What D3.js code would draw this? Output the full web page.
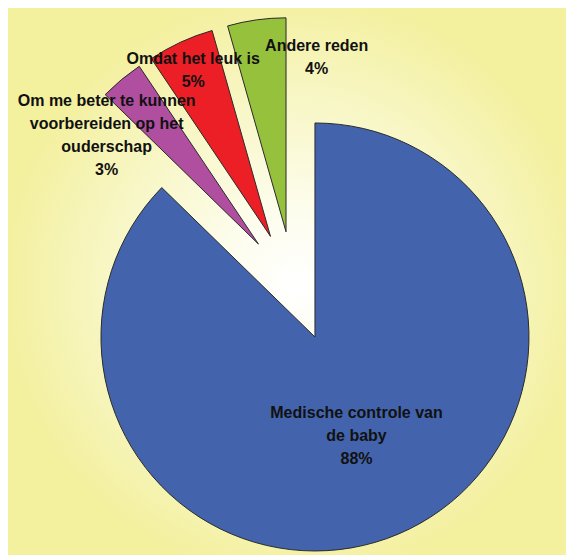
<!DOCTYPE html>
<html>
<head>
<meta charset="utf-8">
<script src="https://cdn.jsdelivr.net/npm/d3@7"></script>
<style>
  html, body { margin: 0; padding: 0; background: #ffffff; }
  svg { display: block; }
</style>
</head>
<body>
<svg id="chart" width="566" height="555"></svg>
<script>
// ---- data ----
const categories = [
  "Medische controle van de baby",
  "Om me beter te kunnen voorbereiden op het ouderschap",
  "Omdat het leuk is",
  "Andere reden"
];
const labelLines = [
  ["Medische controle van", "de baby"],
  ["Om me beter te kunnen", "voorbereiden op het", "ouderschap"],
  ["Omdat het leuk is"],
  ["Andere reden"]
];
const values = [87.3, 3.3, 5.0, 4.4];
const percentLabels = ["88%", "3%", "5%", "4%"];
const colors = ["#4364ad", "#b04fa0", "#ec1f26", "#95c13d"];

// ---- layout ----
const W = 566, H = 555;
const cx = 293.6, cy = 286.3, R = 214, explode = 55;
const lineH = 23;
// label placement: inside for the big slice, outside for the others, with Excel-like nudges
const labelRadius = [0, 239, 239, 239];
const labelNudge = [[0, 0], [-34, 32], [0, 0], [56, 7]];

const svg = d3.select("#chart");
const defs = svg.append("defs");
const grad = defs.append("radialGradient")
  .attr("id", "bg").attr("gradientUnits", "userSpaceOnUse")
  .attr("cx", 295).attr("cy", 285).attr("r", 295);
grad.append("stop").attr("offset", 0).attr("stop-color", "#ffffff");
grad.append("stop").attr("offset", 0.25).attr("stop-color", "#fdfdee");
grad.append("stop").attr("offset", 1).attr("stop-color", "#f3f09e");

svg.append("rect").attr("x", 8).attr("y", 8).attr("width", W - 8).attr("height", H - 8)
  .attr("fill", "url(#bg)");

const pie = d3.pie().sort(null).value(d => d);
const arcs = pie(values);
const arc = d3.arc().innerRadius(0).outerRadius(R);

const g = svg.append("g").attr("transform", `translate(${cx},${cy})`);

g.selectAll("path.slice").data(arcs).enter().append("path")
  .attr("class", "slice")
  .attr("transform", d => {
    const a = (d.startAngle + d.endAngle) / 2;
    return `translate(${explode * Math.sin(a)},${-explode * Math.cos(a)})`;
  })
  .attr("d", arc)
  .attr("fill", (d, i) => colors[i])
  .attr("stroke", "#2a2a2a")
  .attr("stroke-width", 1)
  .attr("stroke-linejoin", "miter");

const labels = g.selectAll("text.lbl").data(arcs).enter().append("text")
  .attr("class", "lbl")
  .attr("font-family", "'Liberation Sans', Arial, sans-serif")
  .attr("font-weight", "bold")
  .attr("font-size", 16)
  .attr("fill", "#111111")
  .attr("text-anchor", "middle")
  .each(function(d, i) {
    const a = (d.startAngle + d.endAngle) / 2;
    const rr = i === 0 ? explode + R * 0.5 : labelRadius[i];
    const x = rr * Math.sin(a) + labelNudge[i][0];
    const y = -rr * Math.cos(a) + labelNudge[i][1];
    const lines = labelLines[i].concat([percentLabels[i]]);
    const y0 = y - (lines.length - 1) * lineH / 2;
    const t = d3.select(this);
    lines.forEach((s, k) => {
      t.append("tspan").attr("x", x).attr("y", y0 + k * lineH)
        .attr("dy", "0.35em").text(s);
    });
  });
</script>
</body>
</html>
